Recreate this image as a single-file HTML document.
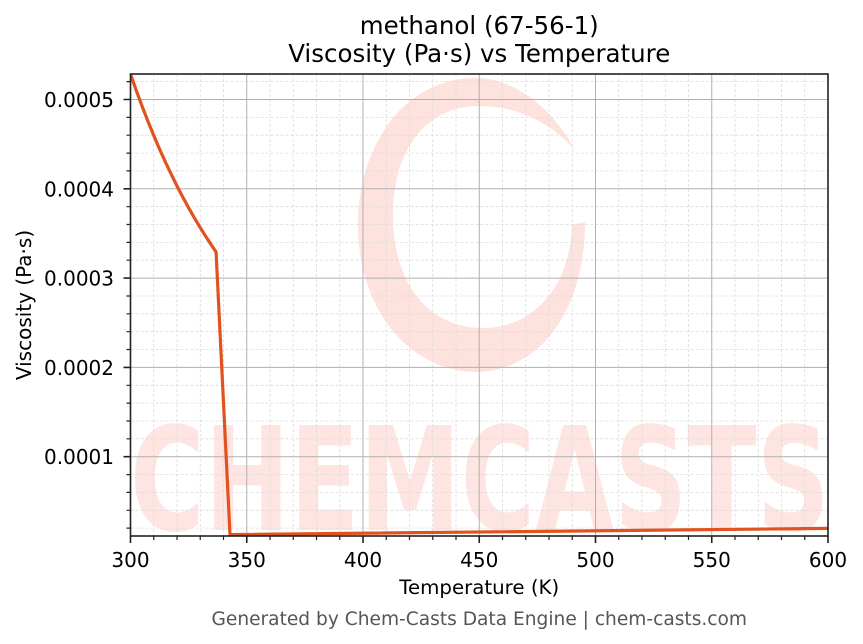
<!DOCTYPE html>
<html><head><meta charset="utf-8"><style>
html,body{margin:0;padding:0;background:#fff;}
svg{display:block;}
text{font-family:"DejaVu Sans","Liberation Sans",sans-serif;}
</style></head><body>
<svg width="863" height="644" viewBox="0 0 863 644" xmlns="http://www.w3.org/2000/svg">
<defs><clipPath id="ax"><rect x="130.5" y="74" width="697.5" height="462"/></clipPath></defs>
<rect width="863" height="644" fill="#fff"/>
<g clip-path="url(#ax)">
 <!-- watermark -->
 <path d="M575,150 C545,95 500,75 470,78 C400,82 358,150 358,225 C358,305 405,370 475,372 C540,372 585,310 585,222 L572,225 C570,290 530,330 480,328 C425,326 393,280 393,215 C393,150 425,107 478,106 C515,106 548,120 575,150 Z" fill="#fde2dd"/>
 <text x="130" y="530" font-size="144" font-weight="bold" fill="#fee5e1" textLength="700" lengthAdjust="spacingAndGlyphs">CHEMCASTS</text>
 <!-- minor grid -->
 <g stroke="#dcdcdc" stroke-width="0.8" stroke-dasharray="3,2" fill="none">
  <path d="M153.75,74V536M177,74V536M200.25,74V536M223.5,74V536M270,74V536M293.25,74V536M316.5,74V536M339.75,74V536M386.25,74V536M409.5,74V536M432.75,74V536M456,74V536M502.5,74V536M525.75,74V536M549,74V536M572.25,74V536M618.75,74V536M642,74V536M665.25,74V536M688.5,74V536M735,74V536M758.25,74V536M781.5,74V536M804.75,74V536"/>
  <path d="M130.5,528.1H828M130.5,510.3H828M130.5,492.4H828M130.5,474.6H828M130.5,438.8H828M130.5,421H828M130.5,403.1H828M130.5,385.3H828M130.5,349.5H828M130.5,331.7H828M130.5,313.8H828M130.5,296H828M130.5,260.2H828M130.5,242.4H828M130.5,224.5H828M130.5,206.7H828M130.5,170.9H828M130.5,153.1H828M130.5,135.2H828M130.5,117.4H828M130.5,81.6H828"/>
 </g>
 <!-- major grid -->
 <g stroke="#b0b0b0" stroke-width="1" fill="none">
  <path d="M246.75,74V536M363,74V536M479.25,74V536M595.5,74V536M711.75,74V536"/>
  <path d="M130.5,99.5H828M130.5,188.8H828M130.5,278.1H828M130.5,367.4H828M130.5,456.7H828"/>
 </g>
 <!-- series -->
 <polyline fill="none" stroke="#e0531f" stroke-width="3.2" stroke-linejoin="round" points="130.5,74 136.31,90.6 142.13,106.3 147.94,121.3 153.75,135.5 159.56,149.1 165.38,162 171.19,174.2 177,186 182.81,197.1 188.63,207.8 194.44,217.9 200.25,227.7 206.06,236.9 211.88,245.8 216.06,252 230,534.6 828,528.4"/>
</g>
<!-- spines -->
<rect x="130.5" y="74" width="697.5" height="462" fill="none" stroke="#222" stroke-width="1.6"/>
<!-- ticks -->
<g stroke="#222" stroke-width="1.6">
 <path d="M130.5,536v7M246.75,536v7M363,536v7M479.25,536v7M595.5,536v7M711.75,536v7M828,536v7"/>
 <path stroke-width="1.2" d="M153.75,536v4M177,536v4M200.25,536v4M223.5,536v4M270,536v4M293.25,536v4M316.5,536v4M339.75,536v4M386.25,536v4M409.5,536v4M432.75,536v4M456,536v4M502.5,536v4M525.75,536v4M549,536v4M572.25,536v4M618.75,536v4M642,536v4M665.25,536v4M688.5,536v4M735,536v4M758.25,536v4M781.5,536v4M804.75,536v4"/>
 <path d="M130.5,99.5h-7M130.5,188.8h-7M130.5,278.1h-7M130.5,367.4h-7M130.5,456.7h-7"/>
 <path stroke-width="1.2" d="M130.5,528.1h-4M130.5,510.3h-4M130.5,492.4h-4M130.5,474.6h-4M130.5,438.8h-4M130.5,421h-4M130.5,403.1h-4M130.5,385.3h-4M130.5,349.5h-4M130.5,331.7h-4M130.5,313.8h-4M130.5,296h-4M130.5,260.2h-4M130.5,242.4h-4M130.5,224.5h-4M130.5,206.7h-4M130.5,170.9h-4M130.5,153.1h-4M130.5,135.2h-4M130.5,117.4h-4M130.5,81.6h-4"/>
</g>
<g font-size="20" fill="#000" text-anchor="middle">
 <text x="130.5" y="567">300</text>
 <text x="246.75" y="567">350</text>
 <text x="363" y="567">400</text>
 <text x="479.25" y="567">450</text>
 <text x="595.5" y="567">500</text>
 <text x="711.75" y="567">550</text>
 <text x="828" y="567">600</text>
</g>
<g font-size="20" fill="#000" text-anchor="end">
 <text x="114" y="107">0.0005</text>
 <text x="114" y="196.3">0.0004</text>
 <text x="114" y="285.6">0.0003</text>
 <text x="114" y="374.9">0.0002</text>
 <text x="114" y="464.2">0.0001</text>
</g>
<text x="479.25" y="594" font-size="19.8" text-anchor="middle" fill="#000">Temperature (K)</text>
<text transform="translate(31,305) rotate(-90)" font-size="20" text-anchor="middle" fill="#000">Viscosity (Pa·s)</text>
<text x="479.25" y="34" font-size="24.5" text-anchor="middle" fill="#000">methanol (67-56-1)</text>
<text x="479.25" y="62" font-size="24.5" text-anchor="middle" fill="#000">Viscosity (Pa·s) vs Temperature</text>
<text x="479.25" y="625" font-size="18.6" text-anchor="middle" fill="#555">Generated by Chem-Casts Data Engine | chem-casts.com</text>
</svg>
</body></html>
